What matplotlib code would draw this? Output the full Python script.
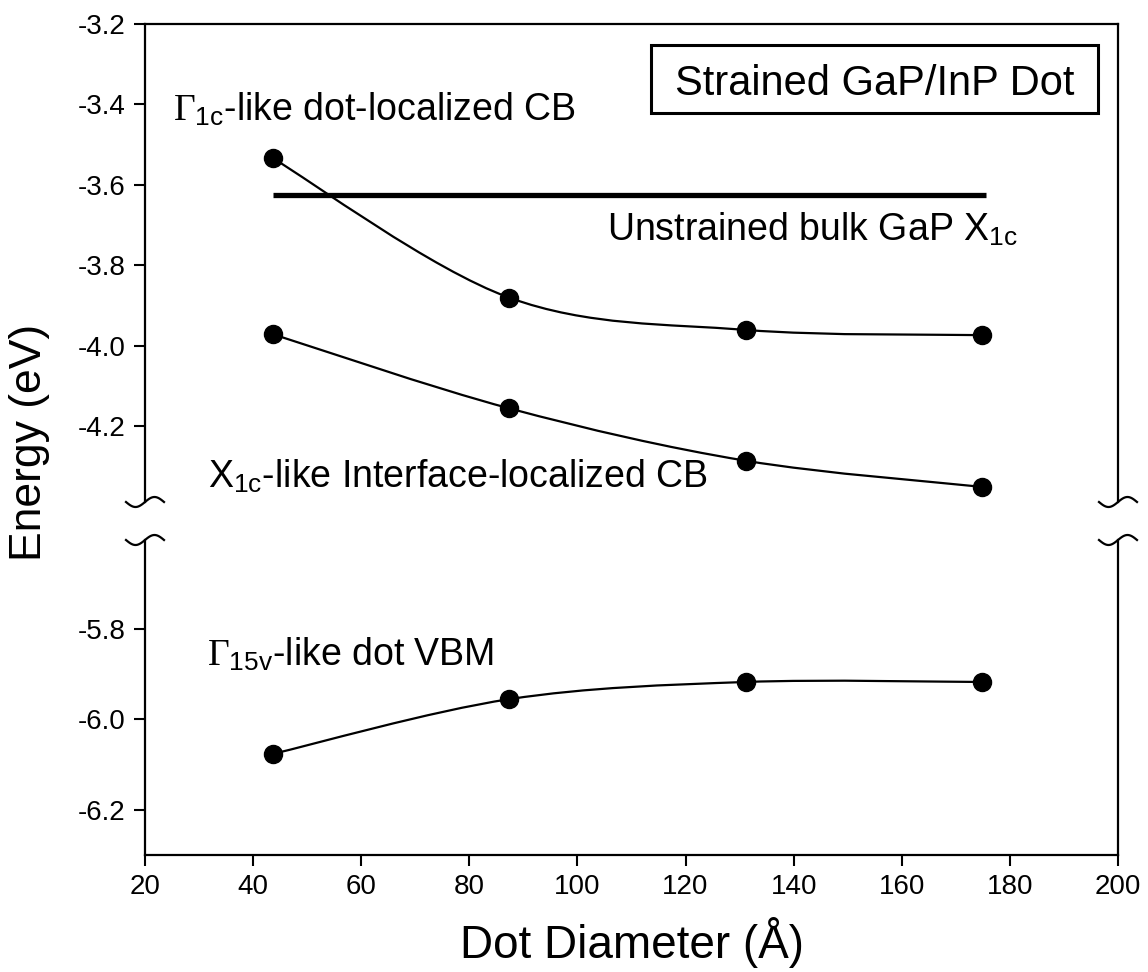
import matplotlib
matplotlib.use('Agg')
import matplotlib.pyplot as plt
import numpy as np
from matplotlib.path import Path
from matplotlib.patches import PathPatch, Rectangle
from matplotlib.lines import Line2D

plt.rcParams['font.family'] = ['Liberation Sans', 'DejaVu Sans']
plt.rcParams['mathtext.fontset'] = 'custom'
plt.rcParams['mathtext.rm'] = 'Liberation Serif'
plt.rcParams['mathtext.sf'] = 'Liberation Sans'
plt.rcParams['mathtext.it'] = 'Liberation Serif:italic'
plt.rcParams['axes.unicode_minus'] = False

# dot diameters (Angstrom) and level energies (eV)
diameter = [43.7, 87.4, 131.1, 174.8]
gamma_cb = [-3.534, -3.880, -3.960, -3.973]
x_cb = [-3.971, -4.155, -4.285, -4.350]
gamma_vbm = [-6.076, -5.955, -5.917, -5.917]
bulk_x = [43.6, 175.5]
bulk_e = [-3.625, -3.625]

upper_ticks = [-3.2, -3.4, -3.6, -3.8, -4.0, -4.2]
lower_ticks = [-5.8, -6.0, -6.2]
x_ticks = [20, 40, 60, 80, 100, 120, 140, 160, 180, 200]

W, H = 1148, 972


def smooth_path(xs, ys):
    # catmull-rom through the points, drawn as cubic bezier pieces
    pts = np.column_stack([xs, ys])
    n = len(pts)
    verts = [pts[0]]
    codes = [Path.MOVETO]
    for i in range(n - 1):
        p0 = pts[max(i - 1, 0)]
        p1 = pts[i]
        p2 = pts[i + 1]
        p3 = pts[min(i + 2, n - 1)]
        verts += [p1 + (p2 - p0) / 6, p2 - (p3 - p1) / 6, p2]
        codes += [Path.CURVE4] * 3
    return Path(verts, codes)


def draw_series(ax, xs, ys):
    ax.add_patch(PathPatch(smooth_path(xs, ys), fill=False, lw=1.6, ec='black'))
    ax.plot(xs, ys, 'o', color='black', ms=13, zorder=5, clip_on=False)


def draw_break(fig, x0, y0):
    t = np.linspace(-1, 1, 60)
    xs = (x0 + 19 * t) / W
    ys = 1 - (y0 - 5 * np.sin(np.pi * t)) / H
    fig.add_artist(Line2D(xs, ys, color='black', lw=1.6, transform=fig.transFigure))


fig = plt.figure(figsize=(W / 100, H / 100), dpi=100)
ax1 = fig.add_axes([145 / W, 1 - 502 / H, 973 / W, 478 / H])
ax2 = fig.add_axes([145 / W, 1 - 855 / H, 973 / W, 315 / H])

ax1.set_xlim(20, 200)
ax1.set_ylim(-4.3876, -3.2)
ax2.set_xlim(20, 200)
ax2.set_ylim(-6.3, -5.6027)

for ax in (ax1, ax2):
    for s in ax.spines.values():
        s.set_linewidth(1.6)
    ax.tick_params(direction='out', length=8, width=1.5, labelsize=20, pad=6,
                   top=False, right=False)

ax1.spines['bottom'].set_visible(False)
ax2.spines['top'].set_visible(False)
ax1.tick_params(axis='x', bottom=False, labelbottom=False)
ax1.set_yticks(upper_ticks)
ax1.set_yticklabels([f'{v:.1f}' for v in upper_ticks])
ax2.set_yticks(lower_ticks)
ax2.set_yticklabels([f'{v:.1f}' for v in lower_ticks])
ax2.set_xticks(x_ticks)

ax1.plot(bulk_x, bulk_e, color='black', lw=3.8, solid_capstyle='butt')
draw_series(ax1, diameter, gamma_cb)
draw_series(ax1, diameter, x_cb)
draw_series(ax2, diameter, gamma_vbm)

fs = 27
ax1.text(25.2, -3.441, r'$\Gamma_{\mathsf{1c}}$-like dot-localized CB', fontsize=fs,
         ha='left', va='baseline')
ax1.text(20 + (607 - 145) / 5.405, -3.737, r'Unstrained bulk GaP X$_{\mathsf{1c}}$',
         fontsize=fs, ha='left', va='baseline')
ax1.text(31.7, -4.353, r'X$_{\mathsf{1c}}$-like Interface-localized CB', fontsize=fs,
         ha='left', va='baseline')
ax2.text(31.5, -5.881, r'$\Gamma_{\mathsf{15v}}$-like dot VBM', fontsize=fs,
         ha='left', va='baseline')

# framed title box in the upper right
ax1.add_patch(Rectangle((0.520, 0.8138), 0.459, 0.1422, transform=ax1.transAxes,
                        fill=False, ec='black', lw=2.2, zorder=6))
ax1.text(0.7497, 0.8515, 'Strained GaP/InP Dot', transform=ax1.transAxes,
         fontsize=30, ha='center', va='baseline', zorder=7)

ax2.set_xlabel('Dot Diameter (Å)', fontsize=33, labelpad=12)
fig.text(30 / W, 1 - 442 / H, 'Energy (eV)', fontsize=32, rotation=90,
         ha='center', va='center')

draw_break(fig, 145, 502)
draw_break(fig, 145, 540)
draw_break(fig, 1118, 502)
draw_break(fig, 1118, 540)

fig.savefig('out.png', dpi=100)
